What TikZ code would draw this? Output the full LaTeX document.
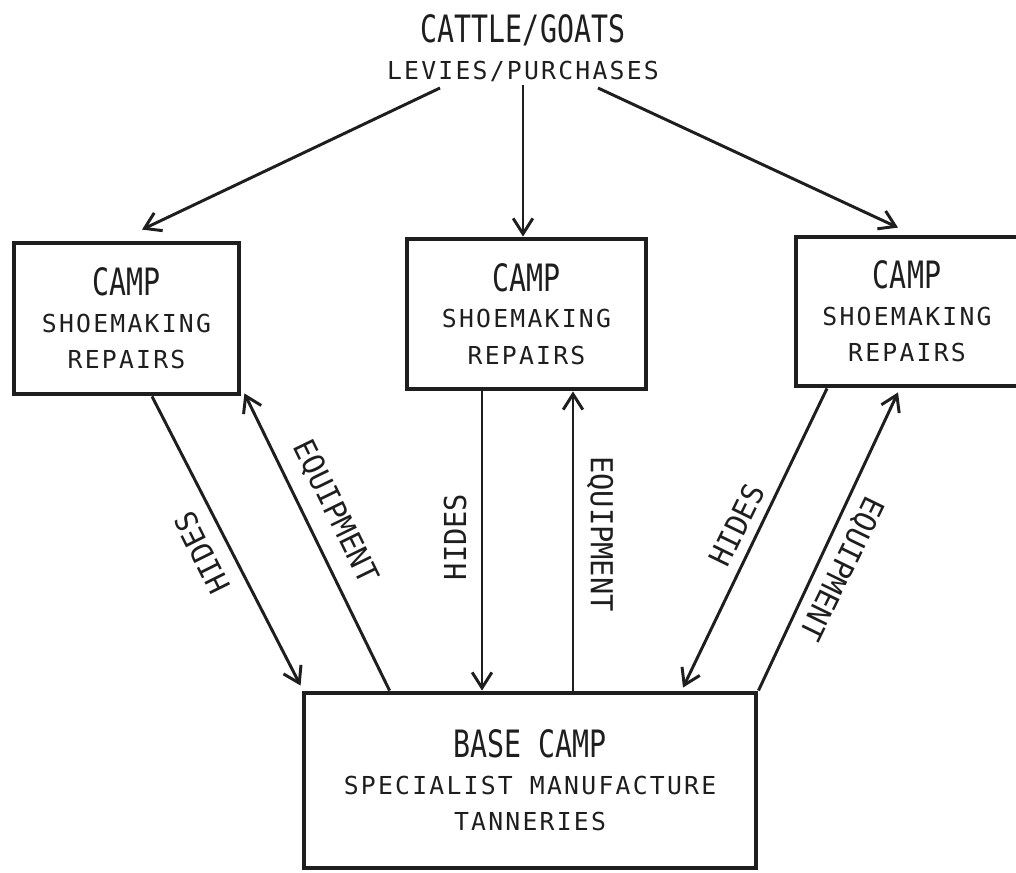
\documentclass[tikz,border=0pt]{standalone}
\usepackage{fontspec}
\usepackage{xcolor}
\usetikzlibrary{calc}
\usetikzlibrary{arrows.meta}
\newfontfamily\headfont[FakeStretch=0.75]{DejaVu Sans Mono}
\newfontfamily\bodyfont[LetterSpace=9]{DejaVu Sans Mono}
\newfontfamily\tagfont[FakeStretch=0.95]{DejaVu Sans Mono}
\definecolor{ink}{HTML}{1E1E1E}
\newcommand{\hd}[1]{{\headfont\fontsize{26.8}{26}\selectfont #1}}
\tikzset {
  x=0.025cm, y=-0.025cm,
  % boxes for the camps
  camp/.style = {draw=ink, line width=3.4pt, align=center, inner sep=0pt, text=ink,
    font=\bodyfont\fontsize{17.6}{26}\selectfont},
  % the source at the top
  source/.style = {camp, draw=none},
  % flows between camps
  flow/.style = {draw=ink, line width=2.1pt, -{Straight Barb[length=11pt, width=14pt]}},
  % labels along the flows
  tag/.style = {text=ink, inner sep=0pt, font=\tagfont\fontsize{21.5}{21.5}\selectfont},
}
\begin{document}
\begin{tikzpicture}
  \useasboundingbox (0,0) rectangle (1016,872);

  \node[source] (src) at (523,48) {\hd{CATTLE/GOATS}\\LEVIES/PURCHASES};
  \node[camp, minimum width=5.625cm, minimum height=3.775cm] (left) at (126.5,318.5) {\hd{CAMP}\\SHOEMAKING\\REPAIRS};
  \node[camp, minimum width=5.975cm, minimum height=3.75cm] (mid) at (526.5,314) {\hd{CAMP}\\SHOEMAKING\\REPAIRS};
  \node[camp, minimum width=5.55cm, minimum height=3.725cm] (right) at (907,311.5) {\hd{CAMP}\\SHOEMAKING\\REPAIRS};
  \node[camp, minimum width=11.3cm, minimum height=4.375cm] (base) at (530,780.5) {\hd{BASE CAMP}\\SPECIALIST MANUFACTURE\\TANNERIES};

  % levies to the camps
  \draw[flow] ($(src.center)+(-83,40)$) -- ($(left.north)+(15.5,-11)$);
  \draw[flow] ($(src.center)+(0,37)$) -- ($(mid.north)+(-3.5,0)$);
  \draw[flow] ($(src.center)+(75,40)$) -- ($(right.north)+(-9,-7)$);

  % hides down, equipment up
  \draw[flow] ($(left.south)+(25.5,0)$) -- ($(base.north west)+(-1,-5)$);
  \draw[flow] ($(base.north west)+(88,0)$) -- ($(left.south east)+(3,-3)$);
  \draw[flow] ($(mid.south)+(-44.5,0)$) coordinate (hm0) -- (hm0 |- base.north);
  \draw[flow] ($(mid.south)+(46.5,0)$) coordinate (em0) (em0 |- base.north) -- (em0);
  \draw[flow] ($(right.south)+(-80,0)$) -- ($(base.north)+(153,-3)$);
  \draw[flow] (base.north east) -- ($(right.south)+(-9,4)$);

  \node[tag, rotate=116.5] (hl) at (202,553) {HIDES};
  \node[tag, rotate=-64] (el) at (335,512) {EQUIPMENT};
  \node[tag, rotate=90] (hmid) at (455,537) {HIDES};
  \node[tag, rotate=-90] (emid) at (600,534) {EQUIPMENT};
  \node[tag, rotate=64] (hr) at (737,525) {HIDES};
  \node[tag, rotate=244] (er) at (841,568) {EQUIPMENT};
\end{tikzpicture}
\end{document}
